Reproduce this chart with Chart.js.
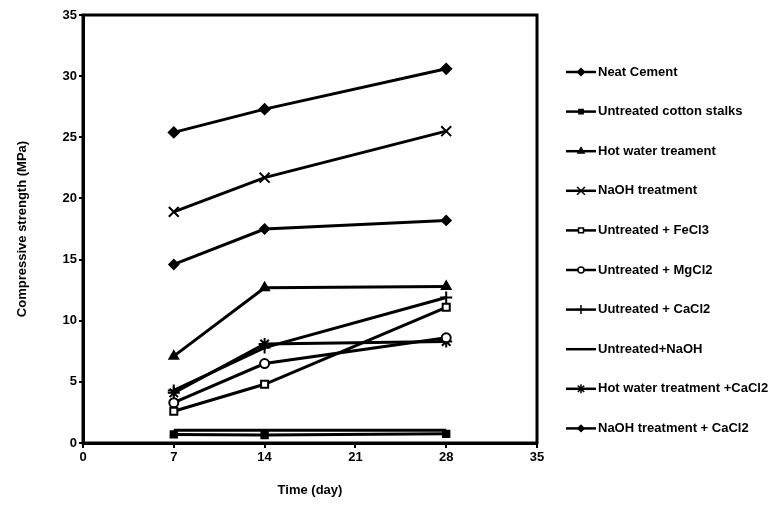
<!DOCTYPE html>
<html>
<head>
<meta charset="utf-8">
<script src="https://cdn.jsdelivr.net/npm/chart.js@4"></script>
<style>
  html, body { margin: 0; padding: 0; background: #fff; }
  #wrap { width: 780px; height: 526px; }
</style>
</head>
<body>
<div id="wrap"><canvas id="strengthChart" width="780" height="526"></canvas></div>
<script>
// time in days and strength in MPa
const days = [7, 14, 28];
const neatCement = [25.4, 27.3, 30.6];
const untreatedStalks = [0.7, 0.65, 0.75];
const hotWater = [7.1, 12.7, 12.8];
const naoh = [18.9, 21.7, 25.5];
const untreatedFeCl3 = [2.6, 4.8, 11.1];
const untreatedMgCl2 = [3.3, 6.5, 8.6];
const untreatedCaCl2 = [4.3, 7.8, 11.9];
const untreatedNaOH = [1.05, 1.05, 1.05];
const hotWaterCaCl2 = [4.1, 8.1, 8.3];
const naohCaCl2 = [14.6, 17.5, 18.2];

const xTicks = [0, 7, 14, 21, 28, 35];
const yTicks = [0, 5, 10, 15, 20, 25, 30, 35];

const FONT = "'Liberation Sans', Arial, sans-serif";

function pts(vals) {
  return vals.map((v, i) => ({ x: days[i], y: v }));
}

function series(label, vals, style, radius, fill) {
  return {
    label: label,
    data: pts(vals),
    borderColor: '#000',
    borderWidth: 3,
    pointStyle: style,
    pointRadius: radius,
    pointBorderColor: '#000',
    pointBorderWidth: 2,
    pointBackgroundColor: fill,
    tension: 0
  };
}

const datasets = [
  series('Neat Cement', neatCement, 'rectRot', 5, '#000'),
  series('Untreated cotton stalks', untreatedStalks, 'rect', 4.5, '#000'),
  series('Hot water treament', hotWater, 'triangle', 5, '#000'),
  series('NaOH treatment', naoh, 'crossRot', 7, '#000'),
  series('Untreated + FeCl3', untreatedFeCl3, 'rect', 5, '#fff'),
  series('Untreated + MgCl2', untreatedMgCl2, 'circle', 4.5, '#fff'),
  series('Uutreated + CaCl2', untreatedCaCl2, 'cross', 6, '#000'),
  series('Untreated+NaOH', untreatedNaOH, false, 0, '#000'),
  series('Hot water treatment +CaCl2', hotWaterCaCl2, 'star', 6, '#000'),
  series('NaOH treatment + CaCl2', naohCaCl2, 'rectRot', 4.5, '#000')
];

// box around the plot area
const frame = {
  id: 'frame',
  afterDatasetsDraw(chart) {
    const a = chart.chartArea;
    const ctx = chart.ctx;
    ctx.save();
    ctx.strokeStyle = '#000';
    ctx.lineWidth = 3;
    ctx.strokeRect(a.left, a.top, a.right - a.left, a.bottom - a.top);
    ctx.restore();
  }
};

// legend on the right: line + marker + label
const sideLegend = {
  id: 'sideLegend',
  afterDraw(chart) {
    const ctx = chart.ctx;
    ctx.save();
    ctx.font = 'bold 13px ' + FONT;
    ctx.textBaseline = 'middle';
    ctx.fillStyle = '#000';
    chart.data.datasets.forEach((ds, i) => {
      const y = 72 + i * 39.6;
      ctx.strokeStyle = '#000';
      ctx.lineWidth = 2.5;
      ctx.beginPath();
      ctx.moveTo(566, y);
      ctx.lineTo(596, y);
      ctx.stroke();
      if (ds.pointStyle) {
        ctx.lineWidth = 1.5;
        ctx.fillStyle = ds.pointBackgroundColor;
        Chart.helpers.drawPoint(ctx, {
          pointStyle: ds.pointStyle,
          radius: Math.max(3, ds.pointRadius - 1.5),
          borderWidth: 1.5
        }, 581, y);
      }
      ctx.fillStyle = '#000';
      ctx.fillText(ds.label, 598, y);
    });
    ctx.restore();
  }
};

new Chart(document.getElementById('strengthChart'), {
  type: 'line',
  data: { datasets: datasets },
  options: {
    responsive: false,
    animation: false,
    devicePixelRatio: 1,
    layout: { padding: { left: 0, right: 243, top: 15, bottom: 0 } },
    plugins: {
      legend: { display: false },
      tooltip: { enabled: false }
    },
    scales: {
      x: {
        type: 'linear',
        min: 0,
        max: 35,
        afterBuildTicks: s => { s.ticks = xTicks.map(v => ({ value: v })); },
        afterFit: s => { s.height = 83; },
        grid: { drawOnChartArea: false, tickLength: 5, color: '#000', lineWidth: 2 },
        border: { display: true, color: '#000', width: 3 },
        ticks: { color: '#000', padding: 2, font: { family: FONT, size: 13, weight: 'bold' } },
        title: {
          display: true,
          text: 'Time (day)',
          color: '#000',
          font: { family: FONT, size: 13, weight: 'bold' },
          padding: { top: 0, bottom: 28 }
        }
      },
      y: {
        min: 0,
        max: 35,
        afterBuildTicks: s => { s.ticks = yTicks.map(v => ({ value: v })); },
        afterFit: s => { s.width = 83; },
        grid: { drawOnChartArea: false, tickLength: 4, color: '#000', lineWidth: 2 },
        border: { display: true, color: '#000', width: 3 },
        ticks: { color: '#000', padding: 2, font: { family: FONT, size: 13, weight: 'bold' } },
        title: {
          display: true,
          text: 'Compressive strength (MPa)',
          color: '#000',
          font: { family: FONT, size: 13, weight: 'bold' },
          padding: { top: 15, bottom: 0 }
        }
      }
    }
  },
  plugins: [frame, sideLegend]
});
</script>
</body>
</html>
